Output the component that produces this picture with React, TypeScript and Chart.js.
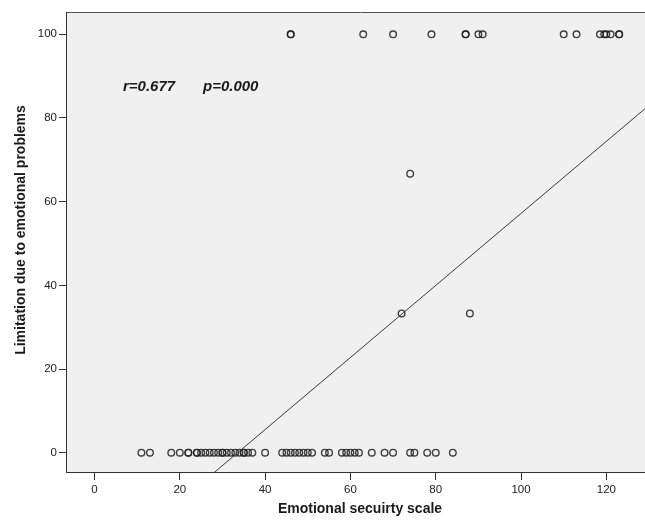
import React, { useEffect, useRef } from "react";
import { Chart, registerables } from "chart.js";

Chart.register(...registerables);

// ---- data ----
const xTicks = [0, 20, 40, 60, 80, 100, 120];
const yTicks = [0, 20, 40, 60, 80, 100];

// cases with Limitation = 0
const zeroRowX = [
  11, 13, 18, 20, 22, 22, 24, 24, 25, 26, 27, 28, 29, 30, 30, 31, 32, 33, 34,
  35, 35, 36, 37, 40, 44, 45, 46, 47, 48, 49, 50, 51, 54, 55, 58, 59, 60, 61,
  62, 65, 68, 70, 74, 75, 78, 80, 84,
];
// cases with Limitation = 100
const hundredRowX = [
  46, 46, 63, 70, 79, 87, 87, 90, 91, 110, 113, 118.5, 119.5, 120, 121, 123, 123,
];
// remaining cases
const midX = [74, 72, 88];
const midY = [66.7, 33.3, 33.3];

// fitted line  y = a + b x
const fitIntercept = -28.9;
const fitSlope = 0.861;
const fitFrom = 20;
const fitTo = 135;

const rLabel = "r=0.677";
const pLabel = "p=0.000";
const xTitle = "Emotional secuirty scale";
const yTitle = "Limitation due to emotional problems";

const FONT = '"Liberation Sans", Arial, sans-serif';

export default function App() {
  const ref = useRef<HTMLCanvasElement | null>(null);

  useEffect(() => {
    if (!ref.current) return;

    const points = [
      ...zeroRowX.map((x) => ({ x, y: 0 })),
      ...hundredRowX.map((x) => ({ x, y: 100 })),
      ...midX.map((x, i) => ({ x, y: midY[i] })),
    ];
    const fitLine = [fitFrom, fitTo].map((x) => ({ x, y: fitIntercept + fitSlope * x }));

    const framePlugin = {
      id: "frame",
      beforeDraw(chart: any) {
        const { ctx, chartArea: a } = chart;
        ctx.save();
        ctx.fillStyle = "#ffffff";
        ctx.fillRect(0, 0, chart.width, chart.height);
        ctx.fillStyle = "#f0f0f0";
        ctx.fillRect(a.left, a.top, a.right - a.left, a.bottom - a.top);
        ctx.strokeStyle = "#555";
        ctx.lineWidth = 1;
        ctx.beginPath();
        ctx.moveTo(a.left, Math.round(a.top) + 0.5);
        ctx.lineTo(a.right, Math.round(a.top) + 0.5);
        ctx.stroke();
        ctx.restore();
      },
      afterDraw(chart: any) {
        const { ctx } = chart;
        ctx.save();
        ctx.fillStyle = "#1a1a1a";
        // annotation
        ctx.font = `italic bold 15px ${FONT}`;
        ctx.textBaseline = "middle";
        ctx.textAlign = "left";
        ctx.fillText(rLabel, 123, 87);
        ctx.fillText(pLabel, 203, 87);
        // x title
        ctx.font = `bold 14px ${FONT}`;
        ctx.textAlign = "center";
        ctx.fillText(xTitle, 360, 509);
        // y title
        ctx.translate(21.5, 230);
        ctx.rotate(-Math.PI / 2);
        ctx.fillText(yTitle, 0, 0);
        ctx.restore();
      },
    };

    const chart = new Chart(ref.current, {
      type: "scatter",
      data: {
        datasets: [
          {
            type: "line",
            data: fitLine,
            borderColor: "#3a3a3a",
            borderWidth: 1,
            pointRadius: 0,
            fill: false,
          } as any,
          {
            type: "scatter",
            data: points,
            pointStyle: "circle",
            pointRadius: 3.3,
            pointBorderWidth: 1.4,
            borderColor: "rgba(30,30,30,0.85)",
            backgroundColor: "rgba(0,0,0,0)",
          } as any,
        ],
      },
      options: {
        responsive: false,
        animation: false,
        devicePixelRatio: 1,
        layout: { padding: { top: 12, right: 15, left: 0, bottom: 0 } },
        plugins: {
          legend: { display: false },
          tooltip: { enabled: false },
        },
        scales: {
          x: {
            type: "linear",
            min: -6.68,
            max: 131.4,
            afterBuildTicks: (s: any) => {
              s.ticks = xTicks.map((v) => ({ value: v }));
            },
            afterFit: (s: any) => {
              s.height = 55;
            },
            grid: {
              drawOnChartArea: false,
              drawTicks: true,
              tickLength: 8,
              color: "#333",
              lineWidth: 1,
            },
            border: { display: true, color: "#333", width: 1 },
            ticks: {
              font: { family: FONT, size: 11.5 },
              color: "#1a1a1a",
              padding: 3,
              maxRotation: 0,
            },
          },
          y: {
            type: "linear",
            min: -4.61,
            max: 105.33,
            afterBuildTicks: (s: any) => {
              s.ticks = yTicks.map((v) => ({ value: v }));
            },
            afterFit: (s: any) => {
              s.width = 66;
            },
            grid: {
              drawOnChartArea: false,
              drawTicks: true,
              tickLength: 7,
              color: "#333",
              lineWidth: 1,
            },
            border: { display: true, color: "#333", width: 1 },
            ticks: {
              font: { family: FONT, size: 11.5 },
              color: "#1a1a1a",
              padding: 2,
            },
          },
        },
      },
      plugins: [framePlugin],
    });

    return () => chart.destroy();
  }, []);

  return (
    <div
      style={{
        position: "fixed",
        left: 0,
        top: 0,
        width: 645,
        height: 527,
        overflow: "hidden",
        background: "#fff",
      }}
    >
      <canvas ref={ref} width={670} height={527} style={{ display: "block" }} />
    </div>
  );
}
